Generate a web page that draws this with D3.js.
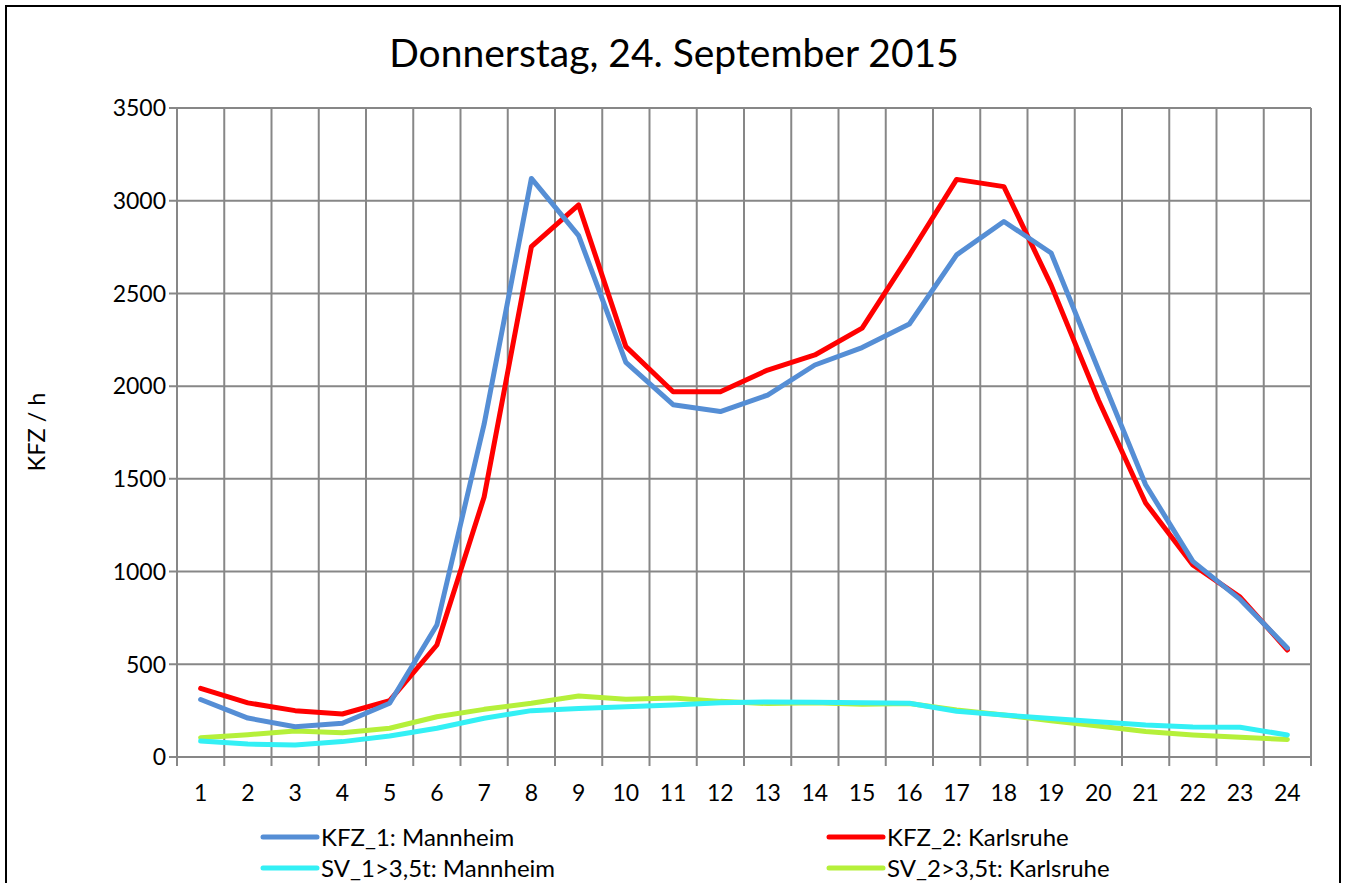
<!DOCTYPE html>
<html>
<head>
<meta charset="utf-8">
<script src="https://cdn.jsdelivr.net/npm/d3@7"></script>
<style>
body{margin:0;background:#fff;}
svg{display:block;font-family:Lato,"Open Sans",sans-serif;}
</style>
</head>
<body>
<div class="canvas"></div>
<script>
// hours of the day
const hours=d3.range(1,25);
const kfz1=[310,210,163,182,290,712,1795,3120,2812,2128,1900,1863,1952,2114,2208,2335,2708,2888,2718,2090,1468,1055,850,588];
const kfz2=[370,292,250,232,304,604,1402,2752,2977,2213,1970,1970,2087,2168,2313,2707,3115,3076,2545,1925,1370,1036,862,577];
const sv1=[86,70,65,83,113,155,209,250,262,271,280,293,297,295,292,290,247,226,208,190,173,162,160,119];
const sv2=[104,120,140,131,155,217,257,290,329,311,318,300,288,292,285,288,253,226,196,167,137,119,106,95];
const yTicks=[0,500,1000,1500,2000,2500,3000,3500];
const title='Donnerstag, 24. September 2015';
const yTitle='KFZ / h';

const series=[
  {name:'KFZ_1: Mannheim',values:kfz1,colour:'#558ED5'},
  {name:'KFZ_2: Karlsruhe',values:kfz2,colour:'#FF0000'},
  {name:'SV_1>3,5t: Mannheim',values:sv1,colour:'#33F0F5'},
  {name:'SV_2>3,5t: Karlsruhe',values:sv2,colour:'#B5F03A'}
];

const dims={width:1348,height:883};
const plot={left:177,right:1311,top:108,bottom:757};

const svg=d3.select('.canvas')
      .append('svg')
      .attr('width',dims.width)
      .attr('height',dims.height);

// outer chart frame
svg.append('rect')
   .attr('x',6).attr('y',6)
   .attr('width',1334).attr('height',900)
   .attr('fill','none')
   .attr('stroke','#000')
   .attr('stroke-width',2);

svg.append('text')
   .attr('x',674).attr('y',67)
   .attr('text-anchor','middle')
   .attr('font-size',39)
   .text(title);

// scales
const x=d3.scaleBand()
     .domain(hours)
     .range([plot.left,plot.right]);
const y=d3.scaleLinear()
     .domain([0,3500])
     .range([plot.bottom,plot.top]);

const grid=svg.append('g');
// horizontal gridlines
grid.selectAll('line.h')
    .data(yTicks)
    .enter().append('line')
    .attr('class','h')
    .attr('x1',plot.left-8).attr('x2',plot.right)
    .attr('y1',d=>y(d)).attr('y2',d=>y(d))
    .attr('stroke','#878787')
    .attr('stroke-width',2);
// vertical gridlines between categories
const edges=hours.map(h=>x(h)).concat([plot.right]);
grid.selectAll('line.v')
    .data(edges)
    .enter().append('line')
    .attr('class','v')
    .attr('x1',d=>d).attr('x2',d=>d)
    .attr('y1',plot.top).attr('y2',plot.bottom+9)
    .attr('stroke','#878787')
    .attr('stroke-width',2);

// axis labels
svg.append('g').selectAll('text')
   .data(yTicks)
   .enter().append('text')
   .attr('x',plot.left-11)
   .attr('y',d=>y(d))
   .attr('dy','0.36em')
   .attr('text-anchor','end')
   .attr('font-size',23)
   .text(d=>d);

svg.append('g').selectAll('text')
   .data(hours)
   .enter().append('text')
   .attr('x',d=>x(d)+x.bandwidth()/2)
   .attr('y',801)
   .attr('text-anchor','middle')
   .attr('font-size',23)
   .text(d=>d);

svg.append('text')
   .attr('transform','translate(45,432) rotate(-90)')
   .attr('text-anchor','middle')
   .attr('font-size',23.5)
   .text(yTitle);

// line generator
const line=d3.line()
     .x((d,i)=>x(hours[i])+x.bandwidth()/2)
     .y(d=>y(d));

// draw lines in reverse so KFZ sit on top
svg.append('g').selectAll('path')
   .data(series.slice().reverse())
   .enter().append('path')
   .attr('d',d=>line(d.values))
   .attr('fill','none')
   .attr('stroke',d=>d.colour)
   .attr('stroke-width',5)
   .attr('stroke-linejoin','round')
   .attr('stroke-linecap','round');

// legend 2x2
const legendPos=[[263,837],[829,837],[263,868],[829,868]];
const legend=svg.append('g').selectAll('g')
     .data(series)
     .enter().append('g')
     .attr('transform',(d,i)=>`translate(${legendPos[i][0]},${legendPos[i][1]})`);
legend.append('line')
     .attr('x1',0).attr('x2',54)
     .attr('stroke',d=>d.colour)
     .attr('stroke-width',5)
     .attr('stroke-linecap','round');
legend.append('text')
     .attr('x',58)
     .attr('dy','0.36em')
     .attr('font-size',24)
     .text(d=>d.name);
</script>
</body>
</html>
